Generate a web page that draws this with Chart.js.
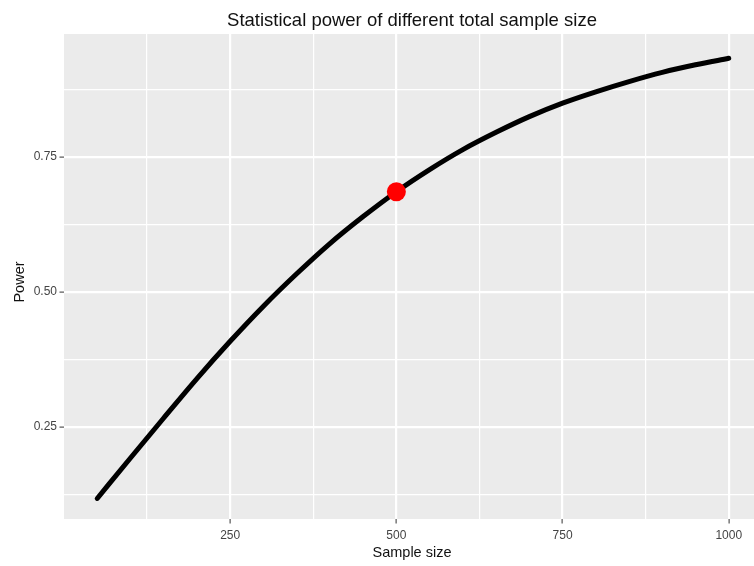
<!DOCTYPE html>
<html lang="en">
<head>
  <meta charset="UTF-8">
  <title>Statistical power of different total sample size</title>
  <script src="https://cdn.jsdelivr.net/npm/chart.js"></script>
  <style>
    html, body { margin: 0; padding: 0; background: #fff; }
    #grafico { display: block; }
  </style>
</head>
<body>
  <canvas id="grafico" width="754" height="566"></canvas>

<script>
  // values
  const sampleSizes = [50, 100, 150, 200, 250, 300, 350, 400, 450, 500,
                       550, 600, 650, 700, 750, 800, 850, 900, 950, 1000];
  const powerValues = [0.118, 0.193, 0.267, 0.340, 0.409, 0.474, 0.534, 0.590, 0.640, 0.686,
                       0.727, 0.764, 0.796, 0.825, 0.850, 0.871, 0.890, 0.907, 0.921, 0.933];

  // the highlighted point
  const markSize = [500];
  const markPower = [0.686];

  // axis ticks (minor ones get a grid line, no label)
  const xGridTicks = [125, 250, 375, 500, 625, 750, 875, 1000];
  const xLabelTicks = [250, 500, 750, 1000];
  const yGridTicks = [0.125, 0.25, 0.375, 0.5, 0.625, 0.75, 0.875];
  const yLabelTicks = [0.25, 0.5, 0.75];

  const titleText = 'Statistical power of different total sample size';
  const xTitle = 'Sample size';
  const yTitle = 'Power';

  const fonte = '"Liberation Sans", Arial, sans-serif';

  function isMajor(list, v) {
    return list.some(function (m) { return Math.abs(m - v) < 1e-9; });
  }

  // gray panel + titles, ggplot style
  const ggFundo = {
    id: 'ggFundo',
    beforeDraw: function (chart) {
      const a = chart.chartArea;
      const ctx = chart.ctx;
      ctx.save();
      ctx.fillStyle = '#ebebeb';
      ctx.fillRect(a.left, a.top, a.right - a.left, a.bottom - a.top);
      ctx.restore();
    },
    afterDraw: function (chart) {
      const ctx = chart.ctx;
      ctx.save();
      ctx.fillStyle = '#111';
      ctx.textAlign = 'center';
      ctx.textBaseline = 'middle';
      ctx.font = '18.5px ' + fonte;
      ctx.fillText(titleText, 412, 21);
      ctx.font = '14.5px ' + fonte;
      ctx.fillText(xTitle, 412, 553);
      ctx.translate(20, 282);
      ctx.rotate(-Math.PI / 2);
      ctx.fillText(yTitle, 0, 0);
      ctx.restore();
    }
  };

  const dados = {
    datasets: [{
      label: 'ponto',
      data: markSize.map(function (n, i) { return { x: n, y: markPower[i] }; }),
      showLine: false,
      pointRadius: 9.5,
      pointHoverRadius: 9.5,
      pointBackgroundColor: '#ff0000',
      pointBorderColor: '#ff0000',
      pointBorderWidth: 0
    }, {
      label: 'Power',
      data: sampleSizes.map(function (n, i) { return { x: n, y: powerValues[i] }; }),
      borderColor: '#000',
      borderWidth: 5,
      borderCapStyle: 'round',
      cubicInterpolationMode: 'monotone',
      pointRadius: 0,
      fill: false
    }]
  };

  const config = {
    type: 'line',
    data: dados,
    plugins: [ggFundo],
    options: {
      responsive: false,
      animation: false,
      events: [],
      layout: { autoPadding: false, padding: { top: 34, right: 0, bottom: 0, left: 0 } },
      plugins: {
        legend: { display: false },
        tooltip: { enabled: false },
        title: { display: false }
      },
      scales: {
        x: {
          type: 'linear',
          min: 0,
          max: 1038,
          afterBuildTicks: function (scale) {
            scale.ticks = xGridTicks.map(function (v) { return { value: v }; });
          },
          afterFit: function (scale) {
            scale.height = 47;
            scale.paddingLeft = 0;
            scale.paddingRight = 0;
          },
          border: { display: false },
          grid: {
            color: '#ffffff',
            lineWidth: function (c) { return isMajor(xLabelTicks, c.tick.value) ? 2.2 : 1.2; },
            tickColor: function (c) { return isMajor(xLabelTicks, c.tick.value) ? '#333333' : 'rgba(0,0,0,0)'; },
            tickLength: 4.5,
            tickWidth: 1
          },
          ticks: {
            autoSkip: false,
            maxRotation: 0,
            padding: 5,
            color: '#444444',
            font: { family: fonte, size: 12 },
            callback: function (v) { return isMajor(xLabelTicks, v) ? String(v) : ''; }
          }
        },
        y: {
          type: 'linear',
          min: 0.08,
          max: 0.978,
          afterBuildTicks: function (scale) {
            scale.ticks = yGridTicks.map(function (v) { return { value: v }; });
          },
          afterFit: function (scale) {
            scale.width = 64;
            scale.paddingTop = 0;
            scale.paddingBottom = 0;
          },
          border: { display: false },
          grid: {
            color: '#ffffff',
            lineWidth: function (c) { return isMajor(yLabelTicks, c.tick.value) ? 2.2 : 1.2; },
            tickColor: function (c) { return isMajor(yLabelTicks, c.tick.value) ? '#333333' : 'rgba(0,0,0,0)'; },
            tickLength: 4.5,
            tickWidth: 1
          },
          ticks: {
            autoSkip: false,
            padding: 2.5,
            color: '#444444',
            font: { family: fonte, size: 12 },
            callback: function (v) { return isMajor(yLabelTicks, v) ? v.toFixed(2) : ''; }
          }
        }
      }
    }
  };

  new Chart(document.getElementById('grafico'), config);
</script>
</body>
</html>
